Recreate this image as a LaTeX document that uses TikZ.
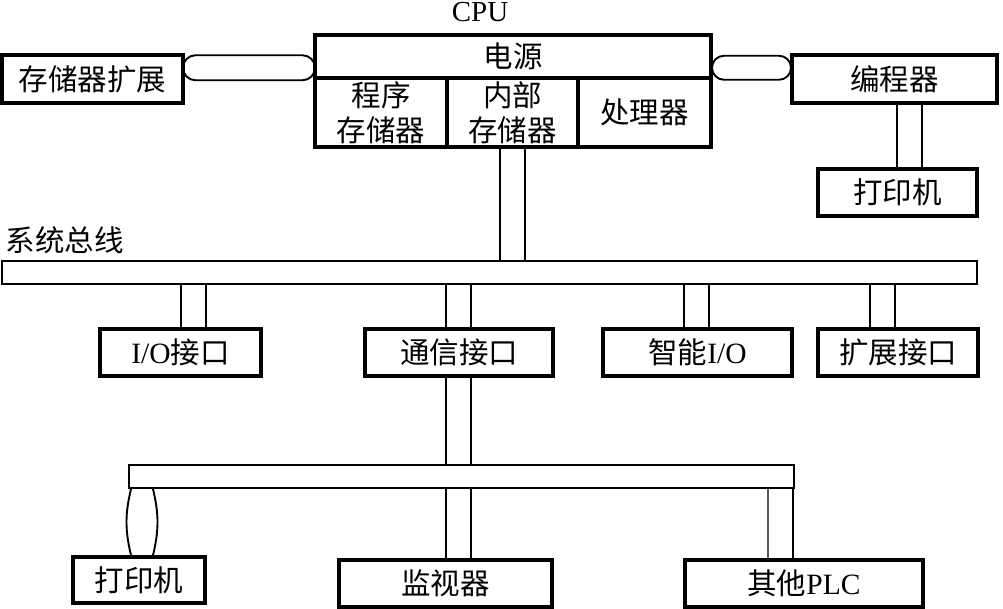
\documentclass[tikz,border=0pt]{standalone}
\usepackage{fontspec}
\setmainfont{Liberation Serif}
\newfontfamily\cjk{Noto Sans CJK SC}
\usetikzlibrary{calc,shapes.misc}
\begin{document}
\begin{tikzpicture}[x=1pt,y=-1pt,
  txt/.style={font=\fontsize{29.5}{35}\selectfont},
  box/.style={draw, line width=3.4pt, inner sep=0pt, txt, align=center},
  cell/.style={draw, line width=3.4pt, inner sep=0pt, txt, align=center},
  bar/.style={draw, line width=1.9pt, inner sep=0pt},
  cable/.style={line width=1.9pt},
  thincable/.style={line width=1.1pt, black!65},
  capsule/.style={draw, line width=1.9pt, rounded rectangle, inner sep=0pt}]
\useasboundingbox (0,0) rectangle (1003,609);

% CPU
\node[font=\fontsize{29}{32}\selectfont] (cpulbl) at (480,12) {CPU};
\node[cell, minimum width=396pt, minimum height=43pt] (power) at (513,56.5) {\cjk 电源};
\node[cell, minimum width=132pt, minimum height=69pt] (prog) at (381,112.5) {\cjk 程序\\\cjk 存储器};
\node[cell, minimum width=131pt, minimum height=69pt] (inmem) at (512.5,112.5) {\cjk 内部\\\cjk 存储器};
\node[cell, minimum width=133pt, minimum height=69pt] (proc) at (644.5,112.5) {\cjk 处理器};

% top boxes
\node[box, minimum width=181pt, minimum height=48pt] (memx) at (92.5,79) {\cjk 存储器扩展};
\node[box, minimum width=205pt, minimum height=48pt] (prg) at (894.5,79) {\cjk 编程器};
\node[box, minimum width=159pt, minimum height=47pt] (prt1) at (897.5,192.5) {\cjk 打印机};

% capsule links
\node[capsule, minimum width=132pt, minimum height=25pt] (lk1) at ($(memx.east)!0.5!(power.west)$) {};
\node[capsule, minimum width=79pt, minimum height=24pt] (lk2) at ($(power.east)!0.5!(prg.west)$) {};

% system bus
\node[anchor=west, txt] (buslbl) at (2,240) {\cjk 系统总线};
\node[bar, minimum width=975pt, minimum height=23pt] (sysbus) at (489.5,272.5) {};

% interface row
\node[box, minimum width=161pt, minimum height=47pt] (io) at (180.5,352.5) {I/O{\cjk 接口}};
\node[box, minimum width=188pt, minimum height=47pt] (comm) at (459,352.5) {\cjk 通信接口};
\node[box, minimum width=189pt, minimum height=47pt] (smart) at (697.5,352.5) {{\cjk 智能}I/O};
\node[box, minimum width=160pt, minimum height=47pt] (ext) at (898,352.5) {\cjk 扩展接口};

% lower bus
\node[bar, minimum width=665pt, minimum height=23pt] (busb) at (461.5,476.5) {};

% bottom boxes
\node[box, minimum width=132pt, minimum height=46pt] (prt2) at (139,580) {\cjk 打印机};
\node[box, minimum width=213pt, minimum height=47pt] (mon) at (445.5,583.5) {\cjk 监视器};
\node[box, minimum width=238pt, minimum height=47pt] (plc) at (804,583.5) {{\cjk 其他}PLC};

% cable x positions
\coordinate (xa1) at (500,0);  \coordinate (xa2) at (525,0);
\coordinate (xb1) at (897,0);  \coordinate (xb2) at (922,0);
\coordinate (xc1) at (181,0);  \coordinate (xc2) at (206,0);
\coordinate (xd1) at (446,0);  \coordinate (xd2) at (471,0);
\coordinate (xe1) at (684,0);  \coordinate (xe2) at (709,0);
\coordinate (xf1) at (870,0);  \coordinate (xf2) at (895,0);
\coordinate (xg1) at (768,0);  \coordinate (xg2) at (793,0);
\coordinate (xl1) at (131,0);  \coordinate (xl2) at (153,0);

% cables
\foreach \c in {xa1,xa2} \draw[cable] (\c |- inmem.south) -- (\c |- sysbus.north);
\foreach \c in {xb1,xb2} \draw[cable] (\c |- prg.south) -- (\c |- prt1.north);
\foreach \c in {xc1,xc2} \draw[cable] (\c |- sysbus.south) -- (\c |- io.north);
\foreach \c in {xd1,xd2} \draw[cable] (\c |- sysbus.south) -- (\c |- comm.north);
\foreach \c in {xd1,xd2} \draw[cable] (\c |- comm.south) -- (\c |- busb.north);
\foreach \c in {xe1,xe2} \draw[cable] (\c |- sysbus.south) -- (\c |- smart.north);
\foreach \c in {xf1,xf2} \draw[cable] (\c |- sysbus.south) -- (\c |- ext.north);
\foreach \c in {xd1,xd2} \draw[cable] (\c |- busb.south) -- (\c |- mon.north);
\draw[thincable] (xg1 |- busb.south) -- (xg1 |- plc.north);
\draw[cable] (xg2 |- busb.south) -- (xg2 |- plc.north);

% lens link to bottom printer
\draw[cable] (xl1 |- busb.south) .. controls +(-6,25) and +(-6,-25) .. (xl1 |- prt2.north);
\draw[cable] (xl2 |- busb.south) .. controls +(6,25) and +(6,-25) .. (xl2 |- prt2.north);
\end{tikzpicture}
\end{document}
